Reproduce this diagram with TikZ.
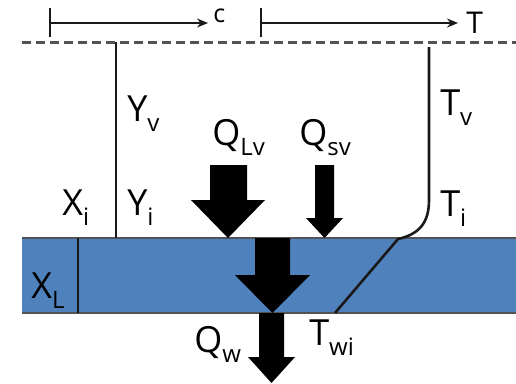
\documentclass[tikz,border=0pt]{standalone}
\usepackage{fontspec}
\setmainfont{Open Sans}
\usepackage{tikz}
\usetikzlibrary{arrows.meta}
\definecolor{film}{HTML}{4F81BD}
\definecolor{ink}{HTML}{1A1A1A}
\newcommand\lsub[1]{\raisebox{-10pt}{\fontsize{24}{24}\selectfont #1}}

\begin{document}
\begin{tikzpicture}[x=1pt, y=-1pt, line width=2.6pt,
  lbl/.style={anchor=base west, inner sep=0pt, font=\fontsize{36}{36}\selectfont},
  flux/.style={fill=black, draw=none}]
  \useasboundingbox (0,0) rectangle (516,383);
  % liquid film on the wall
  \fill[film] (22,238) rectangle (516,313);
  \draw[ink!75, line width=2pt] (22,238) -- (516,238) (22,313) -- (516,313);
  \draw[ink] (78,238) -- (78,313);
  \draw[ink!75, dash pattern=on 9pt off 5pt, line width=3pt] (22,42) -- (516,42);
  % axes for c and T
  \coordinate (c0) at (50,23); \coordinate (c1) at (208,23);
  \coordinate (t0) at (261,23); \coordinate (t1) at (458,23);
  \draw[ink] (50,8) -- (50,37); \draw[ink] (261,8) -- (261,37);
  \draw[ink, -{Stealth[length=11pt, width=9pt]}] (c0) -- (c1);
  \draw[ink, -{Stealth[length=11pt, width=9pt]}] (t0) -- (t1);
  \node[lbl, font=\fontsize{25}{25}\selectfont] (cax) at (212,22) {c};
  \node[lbl, font=\fontsize{30}{30}\selectfont] (tax) at (465,33) {T};
  % profiles
  \draw[ink] (116,42) -- (116,238);
  \draw[ink] (429,47) -- (429,200) .. controls (429,222) and (420,234) .. (398,239) -- (335,313);
  % heat fluxes
  \fill[flux] (210,165) -- (247,165) -- (247,200) -- (265,200) -- (228,238)
    -- (191,200) -- (210,200) -- cycle;
  \fill[flux] (315,165) -- (334,165) -- (334,218) -- (343,218) -- (324.5,238)
    -- (306,218) -- (315,218) -- cycle;
  \fill[flux] (255,238) -- (290,238) -- (290,275) -- (310,275) -- (272.5,313)
    -- (235,275) -- (255,275) -- cycle;
  \fill[flux] (259,313) -- (284,313) -- (284,357) -- (295,357) -- (271.5,383)
    -- (248,357) -- (259,357) -- cycle;
  % labels
  \node[lbl] (yv) at (126,121) {Y\lsub{v}};
  \node[lbl] (tv) at (439,115) {T\lsub{v}};
  \node[lbl] (qlv) at (211,145) {Q\lsub{Lv}};
  \node[lbl] (qsv) at (298,145) {Q\lsub{sv}};
  \node[lbl] (xi) at (61,215) {X\lsub{i}};
  \node[lbl] (yi) at (126,215) {Y\lsub{i}};
  \node[lbl] (ti) at (439,216) {T\lsub{i}};
  \node[lbl] (xl) at (30,298) {X\lsub{L}};
  \node[lbl] (qw) at (193,352) {Q\lsub{w}};
  \node[lbl] (twi) at (308,345) {T\lsub{wi}};
\end{tikzpicture}
\end{document}
